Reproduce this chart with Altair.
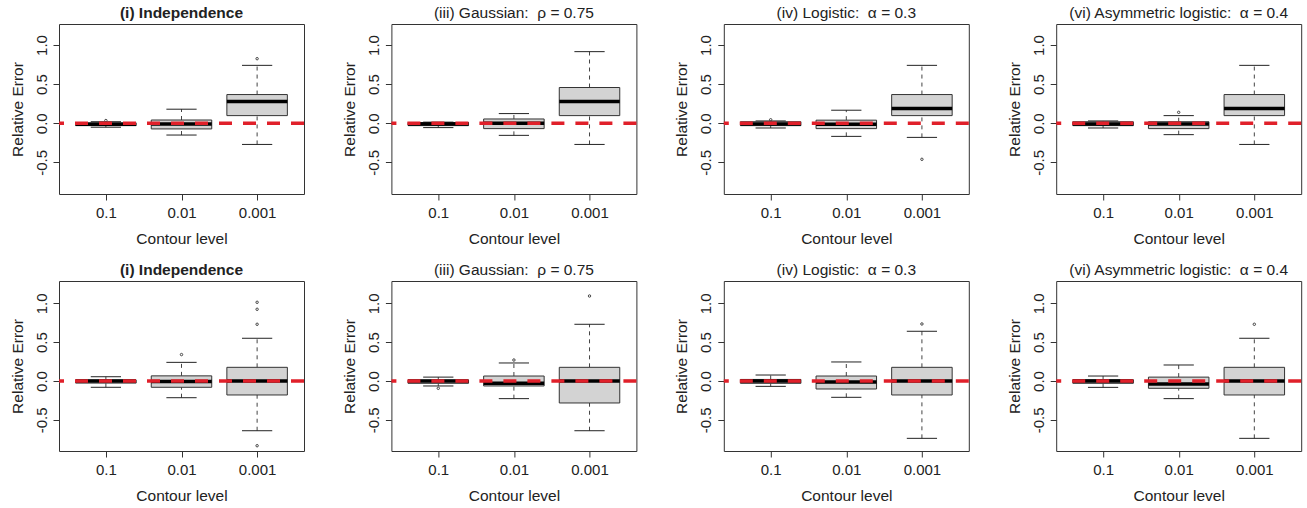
import altair as alt
import pandas as pd

# ---------------- data ----------------
levels = ["0.1", "0.01", "0.001"]

titles = [
    "(i) Independence",
    "(iii) Gaussian: \u00a0\u03c1 = 0.75",
    "(iv) Logistic: \u00a0\u03b1 = 0.3",
    "(vi) Asymmetric logistic: \u00a0\u03b1 = 0.4",
    "(i) Independence",
    "(iii) Gaussian: \u00a0\u03c1 = 0.75",
    "(iv) Logistic: \u00a0\u03b1 = 0.3",
    "(vi) Asymmetric logistic: \u00a0\u03b1 = 0.4",
]
title_bold = [True, False, False, False, True, False, False, False]

# five-number summaries per panel (levels 0.1, 0.01, 0.001)
whisker_low = [
    [-0.05, -0.15, -0.27],
    [-0.055, -0.154, -0.27],
    [-0.06, -0.167, -0.18],
    [-0.06, -0.145, -0.27],
    [-0.081, -0.215, -0.64],
    [-0.064, -0.227, -0.64],
    [-0.069, -0.21, -0.738],
    [-0.082, -0.227, -0.738],
]
quart_low = [
    [-0.03, -0.072, 0.098],
    [-0.03, -0.068, 0.098],
    [-0.03, -0.068, 0.098],
    [-0.03, -0.068, 0.098],
    [-0.027, -0.081, -0.18],
    [-0.03, -0.064, -0.283],
    [-0.03, -0.103, -0.18],
    [-0.03, -0.094, -0.18],
]
medians = [
    [-0.012, -0.01, 0.278],
    [-0.01, 0.0, 0.278],
    [-0.01, -0.013, 0.19],
    [-0.01, -0.01, 0.19],
    [0.0, -0.005, 0.0],
    [0.0, -0.03, 0.0],
    [0.0, -0.013, 0.0],
    [0.0, -0.04, 0.0],
]
quart_high = [
    [0.005, 0.042, 0.367],
    [0.01, 0.055, 0.457],
    [0.02, 0.04, 0.367],
    [0.02, 0.02, 0.367],
    [0.012, 0.066, 0.176],
    [0.01, 0.064, 0.176],
    [0.02, 0.064, 0.176],
    [0.015, 0.05, 0.176],
]
whisker_high = [
    [0.02, 0.18, 0.74],
    [0.015, 0.124, 0.915],
    [0.03, 0.167, 0.74],
    [0.03, 0.098, 0.74],
    [0.055, 0.24, 0.55],
    [0.05, 0.232, 0.73],
    [0.077, 0.245, 0.64],
    [0.064, 0.206, 0.55],
]

outlier_panel = [0, 0, 2, 2, 3, 4, 4, 4, 4, 4, 5, 5, 5, 6, 7]
outlier_level = ["0.1", "0.001", "0.1", "0.001", "0.01",
                 "0.01", "0.001", "0.001", "0.001", "0.001",
                 "0.1", "0.01", "0.001", "0.001", "0.001"]
outlier_value = [0.035, 0.825, 0.045, -0.46, 0.14,
                 0.34, 1.013, 0.923, 0.73, -0.833,
                 -0.094, 0.27, 1.094, 0.734, 0.73]

reference_value = [0.0]

y_domain_top = [-0.903, 1.268]
y_domain_bottom = [-0.901, 1.287]
y_ticks = [-0.5, 0.0, 0.5, 1.0]

x_title = "Contour level"
y_title = "Relative Error"

# ---------------- styling ----------------
FONT = "Liberation Sans"
W, H = 245, 170
STEP = W / 3.24
BOX_W = 0.8 * STEP
CAP_W = 0.4 * STEP
TEXT = "#222222"
FRAME = "#333333"
RED = "#E0202A"


def panel(i):
    dom = y_domain_top if i < 4 else y_domain_bottom
    stats = pd.DataFrame({
        "level": levels,
        "lo": whisker_low[i],
        "q1": quart_low[i],
        "med": medians[i],
        "q3": quart_high[i],
        "hi": whisker_high[i],
    })
    outs = pd.DataFrame({
        "level": [l for p, l in zip(outlier_panel, outlier_level) if p == i],
        "value": [v for p, v in zip(outlier_panel, outlier_value) if p == i],
    })
    ref = pd.DataFrame({"ref": reference_value})

    xaxis = alt.Axis(
        labelAngle=0, labelPadding=5, tickSize=6, domain=False, grid=False,
        titleY=49, titleBaseline="alphabetic", titleX=W / 2,
    )
    yaxis = alt.Axis(
        values=y_ticks, labelExpr="replace(format(datum.value, '.1f'), '\u2212', '-')",
        labelAngle=270, labelAlign="center", labelBaseline="alphabetic",
        labelPadding=7, tickSize=6, domain=False, grid=False,
        titleAngle=270, titleX=-37, titleY=H / 2, titleAlign="center",
        titleBaseline="alphabetic",
    )
    xs = alt.Scale(type="point", domain=levels, padding=0.62)
    ys = alt.Scale(domain=dom, nice=False, zero=False)

    def X():
        return alt.X("level:N", scale=xs, axis=xaxis, title=x_title, sort=levels)

    def Y(f):
        return alt.Y(f, type="quantitative", scale=ys, axis=yaxis, title=y_title)

    base = alt.Chart(stats)
    whisk_up = base.mark_rule(color="#444444", strokeWidth=1, strokeDash=[4, 4]).encode(
        x=X(), y=Y("q3"), y2="hi")
    whisk_lo = base.mark_rule(color="#444444", strokeWidth=1, strokeDash=[4, 4]).encode(
        x=X(), y=Y("lo"), y2="q1")
    cap_hi = base.mark_tick(color="#222222", thickness=1, size=CAP_W, orient="horizontal",
                            opacity=1).encode(x=X(), y=Y("hi"))
    cap_lo = base.mark_tick(color="#222222", thickness=1, size=CAP_W, orient="horizontal",
                            opacity=1).encode(x=X(), y=Y("lo"))
    box = base.mark_bar(fill="#D3D3D3", stroke="#333333", strokeWidth=1, size=BOX_W,
                        opacity=1).encode(x=X(), y=Y("q1"), y2="q3")
    med = base.mark_tick(color="#000000", thickness=3.5, size=BOX_W, orient="horizontal",
                         opacity=1).encode(x=X(), y=Y("med"))
    pts = alt.Chart(outs).mark_point(shape="circle", size=6, filled=False, color="#444444",
                                      strokeWidth=1, opacity=1).encode(x=X(), y=Y("value"))
    zero = alt.Chart(ref).mark_rule(color=RED, strokeWidth=3.5, strokeDash=[13, 11]).encode(
        y=Y("ref"))

    t = alt.Title(
        titles[i], fontSize=15.5, fontWeight="bold" if title_bold[i] else "normal",
        font=FONT, color=TEXT, offset=-9, baseline="alphabetic", frame="group", anchor="middle",
    )
    return alt.layer(whisk_up, whisk_lo, cap_hi, cap_lo, box, med, pts, zero).properties(
        width=W, height=H, title=t)


panels = [panel(i) for i in range(8)]

chart = alt.concat(
    *panels, columns=4, spacing={"row": 87, "column": 87.4}, bounds="flush"
).configure(
    font=FONT, padding={"left": 9, "top": 5, "right": 0, "bottom": 0}
).configure_view(
    stroke=FRAME, strokeWidth=1
).configure_axis(
    labelFont=FONT, labelFontSize=15, labelColor=TEXT,
    titleFont=FONT, titleFontSize=15.5, titleFontWeight="normal", titleColor=TEXT,
    tickColor=FRAME, tickWidth=1,
)

chart.save("out.html", embed_options={"renderer": "svg", "actions": False})
